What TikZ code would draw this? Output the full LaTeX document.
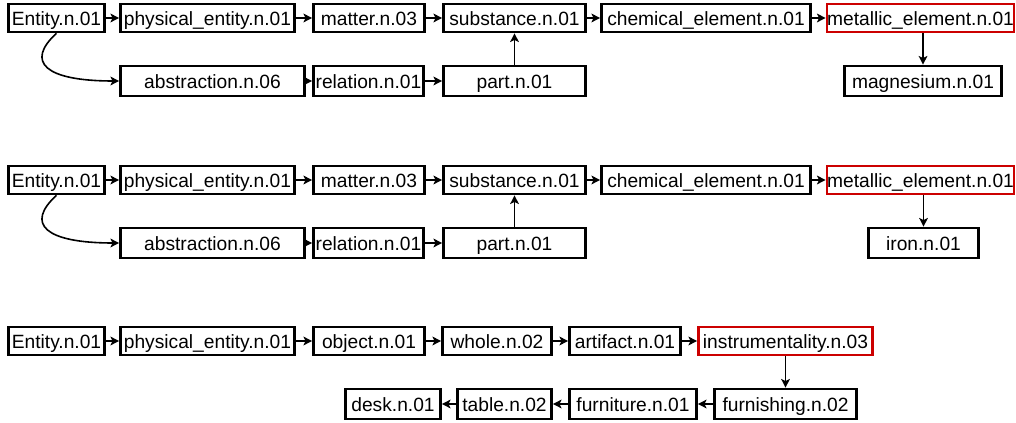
\documentclass[tikz,border=0pt]{standalone}
\usepackage{fontspec}
\setmainfont{Liberation Sans}
\usetikzlibrary{arrows.meta}
\definecolor{boxred}{HTML}{CC0000}
\tikzset{
  wbox/.style={draw=black, line width=2pt, inner sep=0pt, font=\fontsize{14.4}{16}\selectfont,
               text height=12.5pt, text depth=1.5pt,
               minimum width={#1*0.75pt}, minimum height={28*0.75pt}},
  lbox/.style={wbox=#1, minimum height={30*0.75pt}},
  rbox/.style={wbox=#1, draw=boxred},
  arr/.style={line width=1.2pt, -{Stealth[length=6.5pt,width=6.5pt,inset=1.5pt]}},
}
\begin{document}
\begin{tikzpicture}[x=0.75pt,y=-0.75pt]
\useasboundingbox (0,0) rectangle (1016,423);
% ---------- Row 1 ----------
\node[wbox=96]  (E1) at (56.5,18) {Entity.n.01};
\node[wbox=174] (P1) at (207.5,18) {physical\_entity.n.01};
\node[wbox=111] (M1) at (369,18) {matter.n.03};
\node[wbox=142] (S1) at (514.5,18) {substance.n.01};
\node[wbox=209] (C1) at (706,18) {chemical\_element.n.01};
\node[rbox=187] (ME1) at (920.5,18) {metallic\_element.n.01};
\node[lbox=184] (A1) at (212.5,81) {abstraction.n.06};
\node[lbox=110] (R1) at (368.5,81) {relation.n.01};
\node[lbox=142] (PA1) at (514.5,81) {part.n.01};
\node[lbox=157] (MG1) at (923,81) {magnesium.n.01};
\draw[arr] (E1) -- (P1);
\draw[arr] (P1) -- (M1);
\draw[arr] (M1) -- (S1);
\draw[arr] (S1) -- (C1);
\draw[arr] (C1) -- (ME1);
\draw[arr] (E1.south) .. controls (25,62) and (45,81) .. (A1.west);
\draw[arr] (A1) -- (R1);
\draw[arr] (R1) -- (PA1);
\draw[arr] (PA1) -- (S1);
\draw[arr] (ME1.south -| MG1.north) -- (MG1.north);
% ---------- Row 2 ----------
\node[wbox=96]  (E2) at (56.5,180) {Entity.n.01};
\node[wbox=174] (P2) at (207.5,180) {physical\_entity.n.01};
\node[wbox=111] (M2) at (369,180) {matter.n.03};
\node[wbox=142] (S2) at (514.5,180) {substance.n.01};
\node[wbox=209] (C2) at (706,180) {chemical\_element.n.01};
\node[rbox=187] (ME2) at (920.5,180) {metallic\_element.n.01};
\node[lbox=184] (A2) at (212.5,243) {abstraction.n.06};
\node[lbox=110] (R2) at (368.5,243) {relation.n.01};
\node[lbox=142] (PA2) at (514.5,243) {part.n.01};
\node[lbox=110] (IR2) at (923.5,243) {iron.n.01};
\draw[arr] (E2) -- (P2);
\draw[arr] (P2) -- (M2);
\draw[arr] (M2) -- (S2);
\draw[arr] (S2) -- (C2);
\draw[arr] (C2) -- (ME2);
\draw[arr] (E2.south) .. controls (25,224) and (45,243) .. (A2.west);
\draw[arr] (A2) -- (R2);
\draw[arr] (R2) -- (PA2);
\draw[arr] (PA2) -- (S2);
\draw[arr] (ME2.south -| IR2.north) -- (IR2.north);
% ---------- Row 3 ----------
\node[wbox=96]  (E3) at (56.5,341) {Entity.n.01};
\node[wbox=174] (P3) at (207.5,341) {physical\_entity.n.01};
\node[wbox=111] (O3) at (369,341) {object.n.01};
\node[wbox=109] (W3) at (497,341) {whole.n.02};
\node[wbox=111] (AR3) at (625,341) {artifact.n.01};
\node[rbox=174] (I3) at (785.5,341) {instrumentality.n.03};
\node[lbox=142] (FU3) at (785.5,404) {furnishing.n.02};
\node[lbox=127] (FN3) at (633,404) {furniture.n.01};
\node[lbox=94]  (T3) at (504.5,404) {table.n.02};
\node[lbox=95]  (D3) at (393,404) {desk.n.01};
\draw[arr] (E3) -- (P3);
\draw[arr] (P3) -- (O3);
\draw[arr] (O3) -- (W3);
\draw[arr] (W3) -- (AR3);
\draw[arr] (AR3) -- (I3);
\draw[arr] (I3) -- (FU3);
\draw[arr] (FU3) -- (FN3);
\draw[arr] (FN3) -- (T3);
\draw[arr] (T3) -- (D3);
\end{tikzpicture}
\end{document}
